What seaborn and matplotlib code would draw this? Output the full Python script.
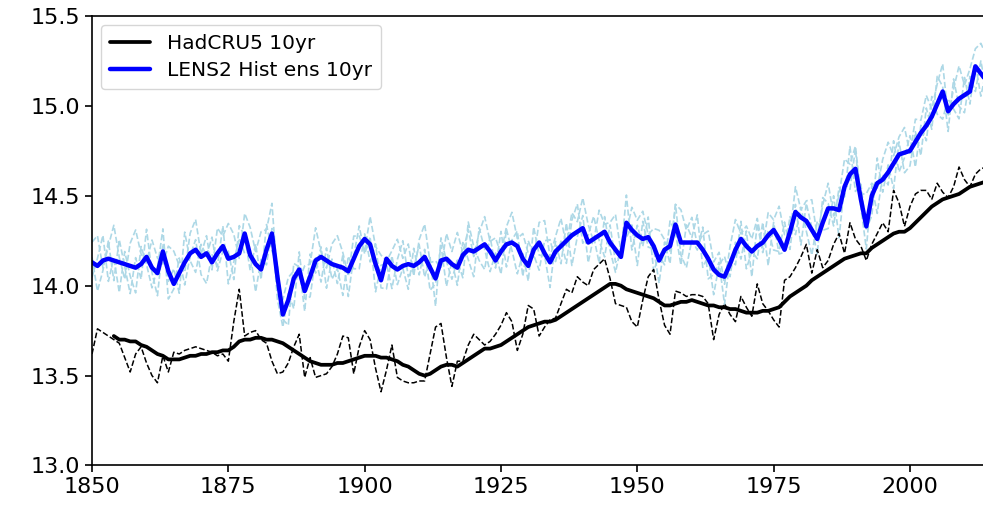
import numpy as np
import pandas as pd
import matplotlib
matplotlib.use("Agg")
import matplotlib.pyplot as plt
import seaborn as sns

# ---------------------------------------------------------------- data
years = list(range(1850, 2015))

# LENS2 historical ensemble mean (degC)
lens2_mean = [
    14.13, 14.11, 14.14, 14.15, 14.14, 14.13, 14.12, 14.11, 14.10, 14.12,
    14.16, 14.10, 14.07, 14.19, 14.08, 14.01, 14.07, 14.13, 14.18, 14.20,
    14.16, 14.18, 14.13, 14.18, 14.22, 14.15, 14.16, 14.18, 14.29, 14.17,
    14.12, 14.09, 14.20, 14.29, 14.05, 13.84, 13.92, 14.04, 14.09, 13.97,
    14.05, 14.14, 14.16, 14.14, 14.12, 14.11, 14.10, 14.08, 14.15, 14.22,
    14.26, 14.23, 14.12, 14.03, 14.15, 14.11, 14.09, 14.11, 14.12, 14.11,
    14.13, 14.16, 14.10, 14.04, 14.14, 14.15, 14.12, 14.10, 14.17, 14.20,
    14.19, 14.21, 14.23, 14.19, 14.14, 14.19, 14.23, 14.24, 14.22, 14.15,
    14.11, 14.20, 14.24, 14.18, 14.13, 14.19, 14.22, 14.25, 14.28, 14.30,
    14.32, 14.24, 14.26, 14.28, 14.30, 14.24, 14.20, 14.16, 14.35, 14.31,
    14.28, 14.26, 14.27, 14.22, 14.14, 14.20, 14.22, 14.34, 14.24, 14.24,
    14.24, 14.24, 14.20, 14.15, 14.09, 14.06, 14.05, 14.12, 14.20, 14.26,
    14.22, 14.19, 14.22, 14.24, 14.28, 14.31, 14.26, 14.20, 14.30, 14.41,
    14.38, 14.36, 14.31, 14.26, 14.35, 14.43, 14.43, 14.42, 14.55, 14.62,
    14.65, 14.48, 14.33, 14.50, 14.57, 14.59, 14.63, 14.68, 14.73, 14.74,
    14.75, 14.80, 14.85, 14.89, 14.94, 15.01, 15.08, 14.97, 15.01, 15.04,
    15.06, 15.08, 15.22, 15.18, 15.14,
]

# individual LENS2 members, as departures from the ensemble mean
# (integer units of MEMBER_UNIT degC)
MEMBER_UNIT = 0.014
member_a_dev = [
    8, 12, -3, 5, 14, 2, -6, 9, 15, 4, -2, 11, 6, -5, 10,
    13, 3, -4, 8, 12, 1, 7, -3, 10, 4, 14, 9, -2, 8, 11,
    5, 15, 8, 12, -1, 6, 9, 3, -4, 10, 5, 13, 2, -3, 8,
    12, 6, -2, 9, 4, -5, 11, 7, 10, -1, 6, 12, 3, 8, -4,
    9, 13, 2, 7, -3, 10, 5, 14, 1, 8, -2, 6, 11, 4, 9,
    -1, 7, 12, 3, 10, 5, -3, 8, 13, 2, 6, 11, -2, 9, 4,
    12, 7, -1, 10, 3, 8, 14, 2, -4, 9, 6, 11, 1, 7, 12,
    4, -2, 8, 13, 5, 10, -1, 6, 11, 3, 9, -3, 7, 12, 2,
    8, 5, 11, -2, 9, 4, 13, 6, -1, 10, 3, 8, 12, 1, 7,
    10, -3, 6, 11, 4, 9, 2, 13, 5, -2, 8, 12, 3, 7, 10,
    -1, 9, 5, 12, 3, 8, 11, -2, 6, 13, 4, 9, 7, 12, 10,
]
member_b_dev = [
    -6, 3, 10, -9, 1, -12, 5, -4, -10, 7, -3, -8, 2, 9, -11,
    -2, 6, -9, -1, 4, -7, -12, 3, -5, 8, -10, -2, 6, -8, 1,
    -11, 4, -6, 2, -9, -5, 3, -12, 7, -3, -8, 1, -10, 5, -6,
    -1, -11, 6, -4, -9, 2, -7, 8, -3, -12, 4, -6, -1, -10, 7,
    -5, 3, -9, -2, 6, -11, 1, -7, 5, -4, -10, 8, -2, -8, 3,
    -9, 6, -3, -11, 2, -6, 9, -5, -1, -10, 4, -7, 7, -12, -2,
    5, -8, 1, -11, 6, -3, -9, 4, -6, 2, -12, 7, -4, -1, -9,
    3, -7, 8, -5, -10, 1, -3, 9, -8, -2, 5, -11, 2, -6, 7,
    -9, 0, -5, 8, -12, 3, -6, -1, 6, -9, 4, -4, -10, 7, -3,
    -8, 5, -11, 1, -6, 8, -3, -9, 4, -12, 2, -5, 9, -7, -2,
    6, -10, 3, -6, 8, -4, -11, 5, -2, -8, 7, -5, 1, -9, 4,
]
member_c_dev = [
    2, -10, -4, 7, -8, 9, -1, -11, 4, -6, 11, -2, -9, 3, -4,
    6, -8, 12, -3, -9, 5, -1, 10, -7, -2, 3, -9, 11, -1, -6,
    8, -4, 10, -7, 5, -2, -10, 6, 1, -8, 9, -5, 4, -11, 2,
    -7, 5, -10, 1, 8, -6, 3, -11, 6, -2, -9, 4, 10, -5, -1,
    7, -8, 4, -11, 9, -1, -6, 3, -9, 11, 2, -5, -10, 6, -3,
    8, -9, 1, 6, -7, 10, -2, -11, 5, 9, -4, 2, -9, 6, 11,
    -6, 3, 9, -2, -10, 7, -5, 1, 11, -8, 4, -3, 8, -10, 2,
    -6, 10, -3, -9, 7, 2, 11, -7, 1, -10, 4, 8, -5, 3, -8,
    6, -10, 9, -4, 2, -8, -5, 11, -7, 3, -11, 7, 1, -6, 10,
    2, -7, 9, -4, 11, -9, 6, -1, -8, 10, -5, 3, -10, 5, -8,
    -6, 4, -9, 7, -5, 11, 2, -8, 10, -3, -7, 6, -10, 5, -4,
]

# HadCRUT5 annual global mean (degC)
hadcru_annual = [
    13.62, 13.76, 13.74, 13.72, 13.70, 13.68, 13.60, 13.52, 13.62, 13.66,
    13.57, 13.50, 13.46, 13.61, 13.52, 13.63, 13.62, 13.64, 13.65, 13.66,
    13.65, 13.64, 13.63, 13.61, 13.62, 13.58, 13.80, 13.98, 13.72, 13.74,
    13.75, 13.70, 13.68, 13.58, 13.51, 13.52, 13.57, 13.66, 13.73, 13.49,
    13.60, 13.49, 13.50, 13.51, 13.55, 13.62, 13.72, 13.71, 13.51, 13.66,
    13.75, 13.70, 13.54, 13.41, 13.53, 13.67, 13.49, 13.47, 13.46, 13.46,
    13.47, 13.47, 13.62, 13.77, 13.79, 13.60, 13.44, 13.58, 13.58, 13.67,
    13.73, 13.70, 13.67, 13.69, 13.73, 13.78, 13.85, 13.80, 13.64, 13.73,
    13.89, 13.87, 13.72, 13.77, 13.81, 13.82, 13.90, 13.98, 13.96, 14.05,
    14.02, 14.00, 14.09, 14.12, 14.15, 14.04, 13.90, 13.89, 13.88, 13.80,
    13.77, 13.92, 14.05, 14.09, 13.92, 13.78, 13.73, 13.97, 13.96, 13.94,
    13.95, 13.95, 13.94, 13.90, 13.70, 13.84, 13.90, 13.84, 13.80, 13.94,
    13.88, 13.83, 14.01, 13.90, 13.86, 13.81, 13.77, 14.03, 14.05, 14.10,
    14.16, 14.23, 14.07, 14.20, 14.10, 14.14, 14.23, 14.29, 14.18, 14.35,
    14.26, 14.22, 14.14, 14.23, 14.29, 14.35, 14.30, 14.53, 14.46, 14.33,
    14.44, 14.51, 14.53, 14.53, 14.48, 14.57, 14.52, 14.49, 14.55, 14.66,
    14.59, 14.55, 14.62, 14.65, 14.66,
]

# HadCRUT5 10-year running mean (degC), 1854-2014
hadcru_10yr_years = list(range(1854, 2015))
hadcru_10yr = [
    13.72, 13.70, 13.70, 13.69, 13.69, 13.67, 13.66, 13.64, 13.62, 13.61,
    13.59, 13.59, 13.59, 13.60, 13.61, 13.61, 13.62, 13.62, 13.63, 13.63,
    13.64, 13.64, 13.66, 13.69, 13.70, 13.70, 13.71, 13.71, 13.70, 13.70,
    13.69, 13.68, 13.66, 13.64, 13.62, 13.60, 13.58, 13.57, 13.56, 13.56,
    13.56, 13.57, 13.57, 13.58, 13.59, 13.60, 13.61, 13.61, 13.61, 13.60,
    13.60, 13.59, 13.58, 13.56, 13.55, 13.53, 13.51, 13.50, 13.51, 13.53,
    13.55, 13.56, 13.56, 13.55, 13.57, 13.59, 13.61, 13.63, 13.65, 13.65,
    13.66, 13.67, 13.69, 13.71, 13.73, 13.75, 13.77, 13.78, 13.79, 13.80,
    13.80, 13.81, 13.83, 13.85, 13.87, 13.89, 13.91, 13.93, 13.95, 13.97,
    13.99, 14.01, 14.01, 14.00, 13.98, 13.97, 13.96, 13.95, 13.94, 13.93,
    13.91, 13.89, 13.89, 13.90, 13.91, 13.91, 13.92, 13.91, 13.90, 13.89,
    13.89, 13.88, 13.88, 13.87, 13.87, 13.86, 13.85, 13.85, 13.85, 13.86,
    13.86, 13.87, 13.88, 13.91, 13.94, 13.96, 13.98, 14.00, 14.03, 14.05,
    14.07, 14.09, 14.11, 14.13, 14.15, 14.16, 14.17, 14.18, 14.18, 14.21,
    14.23, 14.25, 14.27, 14.29, 14.30, 14.30, 14.32, 14.35, 14.38, 14.41,
    14.44, 14.46, 14.48, 14.49, 14.50, 14.51, 14.53, 14.55, 14.56, 14.57,
    14.58,
]

y_ticks = [13.0, 13.5, 14.0, 14.5, 15.0, 15.5]
x_ticks = [1850, 1875, 1900, 1925, 1950, 1975, 2000]
legend_labels = ["HadCRU5 10yr", "LENS2 Hist ens 10yr"]

# ---------------------------------------------------------------- tables
mean_arr = np.array(lens2_mean)
members = pd.DataFrame({
    "year": years * 3,
    "temp": np.concatenate([mean_arr + np.array(d) * MEMBER_UNIT
                            for d in (member_a_dev, member_b_dev, member_c_dev)]),
    "member": ["a"] * len(years) + ["b"] * len(years) + ["c"] * len(years),
})
ens = pd.DataFrame({"year": years, "temp": lens2_mean})
obs = pd.DataFrame({"year": years, "temp": hadcru_annual})
obs10 = pd.DataFrame({"year": hadcru_10yr_years, "temp": hadcru_10yr})

# ---------------------------------------------------------------- figure
sns.set_style("ticks")
plt.rcParams["font.family"] = ["DejaVu Sans"]
plt.rcParams["text.color"] = "black"
plt.rcParams["xtick.color"] = "black"
plt.rcParams["ytick.color"] = "black"

fig = plt.figure(figsize=(9.83, 5.09), dpi=100)
# the plotting area runs a little past the right edge of the canvas
ax = fig.add_axes([0.0936, 0.0855, 0.9153, 0.8831])

for m in ["a", "b", "c"]:
    sub = members[members["member"] == m]
    sns.lineplot(data=sub, x="year", y="temp", ax=ax, color="lightblue",
                 linestyle="--", linewidth=1.2, legend=False)

sns.lineplot(data=obs, x="year", y="temp", ax=ax, color="black",
             linestyle="--", linewidth=1.1, legend=False)
sns.lineplot(data=obs10, x="year", y="temp", ax=ax, color="black",
             linewidth=2.7, label=legend_labels[0])
sns.lineplot(data=ens, x="year", y="temp", ax=ax, color="blue",
             linewidth=3.2, label=legend_labels[1])

ax.set_xlim(1850, 2015)
ax.set_ylim(13.0, 15.5)
ax.set_xticks(x_ticks)
ax.set_yticks(y_ticks)
ax.set_yticklabels([f"{v:.1f}" for v in y_ticks])
ax.set_xlabel("")
ax.set_ylabel("")
ax.tick_params(labelsize=16, length=5, width=1.2, direction="out",
               colors="black")
for s in ax.spines.values():
    s.set_linewidth(1.2)
    s.set_color("black")

handles, labels = ax.get_legend_handles_labels()
ax.legend(handles, labels, loc="upper left", fontsize=14.5, frameon=True,
          framealpha=0.8, edgecolor="#cccccc", fancybox=True,
          borderpad=0.45, handlelength=2.0, labelspacing=0.4,
          borderaxespad=0.45)

fig.savefig("out.png", dpi=100)
